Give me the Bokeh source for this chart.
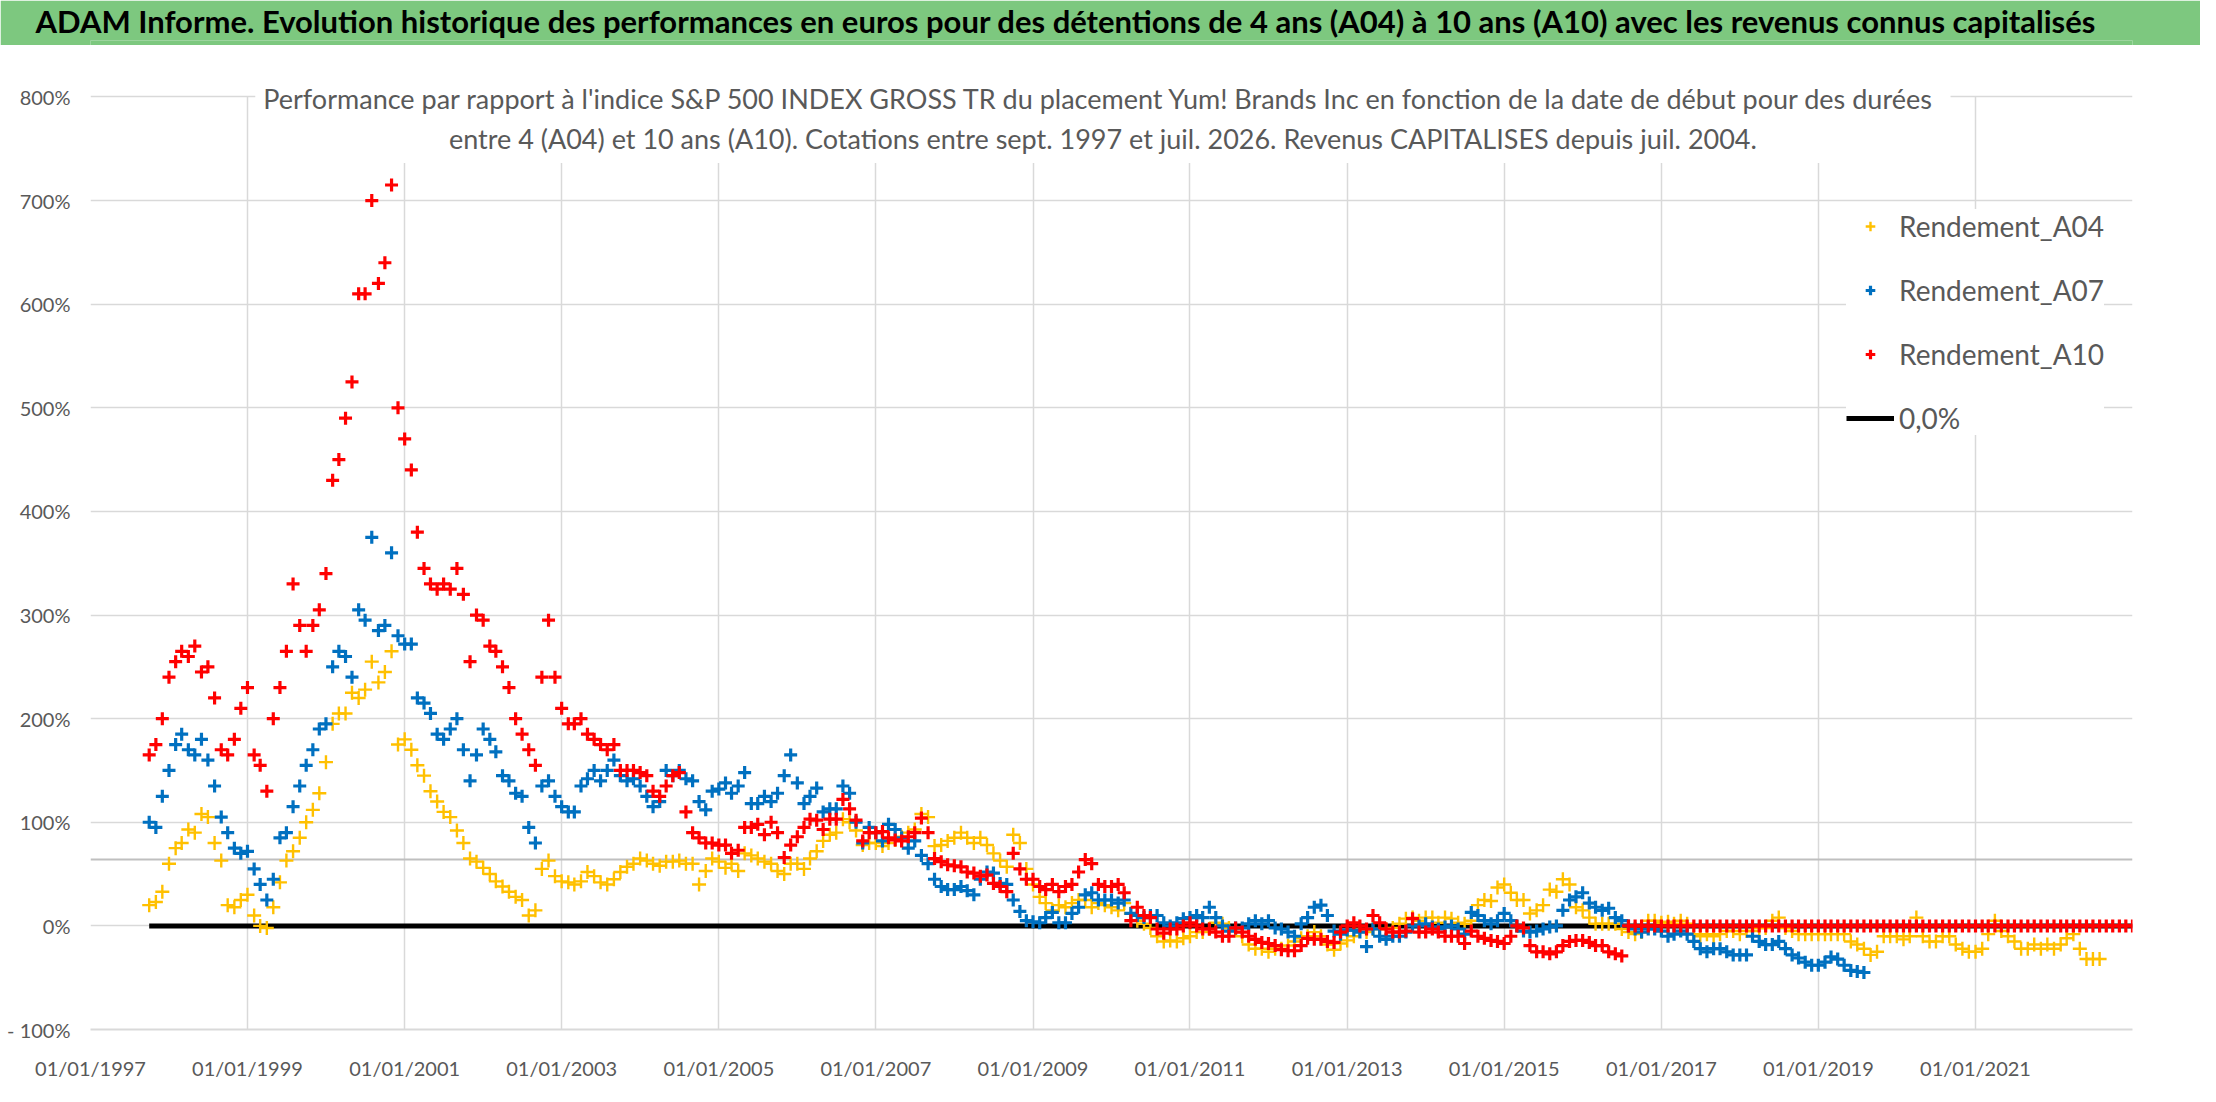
import pandas as pd
from bokeh.plotting import figure
from bokeh.layouts import column
from bokeh.models import (Range1d, FixedTicker, DatetimeTickFormatter, Label,
                          Legend, LegendItem, Span, Title)
from bokeh.embed import file_html
from bokeh.resources import INLINE

# ---------------- data ----------------
banner_title = ("ADAM Informe. Evolution historique des performances en euros pour des "
                "détentions de 4 ans (A04) à 10 ans (A10) avec les revenus connus capitalisés")
subtitle_lines = [
    "Performance par rapport à l'indice S&P 500 INDEX GROSS TR  du placement Yum! Brands Inc en fonction de la date de début pour des durées",
    "entre 4 (A04) et 10 ans (A10). Cotations entre sept. 1997 et juil. 2026. Revenus CAPITALISES depuis juil. 2004.",
]
series_names = ["Rendement_A04", "Rendement_A07", "Rendement_A10"]
zero_label = "0,0%"
first_month = "1997-10-01"
x_axis_start = "01/01/1997"
x_axis_end = "01/01/2023"
x_tick_labels = ["01/01/1997", "01/01/1999", "01/01/2001", "01/01/2003", "01/01/2005",
                 "01/01/2007", "01/01/2009", "01/01/2011", "01/01/2013", "01/01/2015",
                 "01/01/2017", "01/01/2019", "01/01/2021"]
y_ticks = [-100, 0, 100, 200, 300, 400, 500, 600, 700, 800]
y_tick_labels = ["- 100%", "0%", "100%", "200%", "300%", "400%", "500%", "600%", "700%", "800%"]
reference_level = 64

# monthly readings (%), starting Oct 1997
rendement_a04 = [
    20, 23, 33, 60, 75, 80, 93, 90, 108, 105, 80, 63, 20, 18, 25, 30, 10, 0, -2, 18,
    42, 63, 72, 85, 100, 112, 128, 158, 195, 205, 205, 225, 220, 228, 255, 235, 245, 265, 175, 180,
    170, 155, 145, 130, 120, 110, 105, 92, 80, 65, 62, 56, 50, 43, 38, 33, 28, 25, 10, 15,
    55, 63, 48, 43, 42, 40, 43, 52, 48, 42, 40, 45, 52, 57, 60, 65, 63, 60, 58, 62,
    62, 63, 60, 60, 40, 53, 65, 62, 56, 60, 53, 70, 68, 65, 62, 60, 53, 50, 60, 60,
    55, 65, 72, 82, 88, 90, 103, 100, 92, 78, 80, 80, 77, 80, 83, 86, 90, 93, 108, 105,
    77, 78, 82, 85, 90, 85, 80, 85, 78, 70, 63, 57, 88, 80, 55, 40, 28, 22, 15, 20,
    18, 22, 25, 25, 18, 22, 20, 18, 15, 22, 12, 5, 2, -2, -10, -15, -14, -15, -12, -10,
    -6, -6, -3, 3, 2, -2, -3, -10, -18, -22, -22, -25, -22, -22, -19, -15, -12, -10, -6, -10,
    -18, -23, -17, -14, -10, -3, -6, -3, -3, -3, -2, 2, 7, 8, 5, 8, 8, 3, 8, 7,
    3, 2, 5, 20, 25, 24, 37, 40, 32, 25, 25, 12, 15, 20, 35, 33, 45, 40, 18, 15,
    8, 2, 2, 2, 2, -3, -6, -8, -6, 5, 5, 3, 4, 2, 5, 2, -8, -10, -8, -10,
    -8, -5, -5, -8, -5, -5, -2, -2, 5, 8, -2, -5, -8, -8, -8, -8, -8, -8, -8, -8,
    -15, -18, -22, -28, -25, -10, -10, -10, -13, -10, 8, -10, -15, -15, -10, -10, -18, -22, -25, -25,
    -22, -8, 5, -5, -10, -15, -22, -22, -18, -22, -18, -22, -18, -12, -8, -22, -32, -32, -32,
]
rendement_a07 = [
    100, 95, 125, 150, 175, 185, 170, 165, 180, 160, 135, 105, 90, 75, 70, 72, 55, 40, 25, 45,
    85, 90, 115, 135, 155, 170, 190, 195, 250, 265, 260, 240, 305, 295, 375, 285, 290, 360, 280, 272,
    272, 220, 215, 205, 185, 180, 190, 200, 170, 140, 165, 190, 180, 168, 145, 140, 128, 125, 95, 80,
    135, 140, 125, 115, 110, 110, 135, 142, 150, 140, 150, 160, 145, 140, 142, 135, 125, 115, 120, 150,
    145, 150, 142, 140, 120, 112, 130, 132, 138, 128, 135, 148, 118, 118, 125, 120, 128, 145, 165, 138,
    118, 125, 133, 110, 113, 113, 135, 128, 100, 80, 95, 90, 82, 98, 93, 85, 75, 82, 68, 60,
    45, 38, 35, 35, 38, 34, 30, 45, 52, 51, 41, 40, 25, 14, 5, 4, 3, 8, 13, 3,
    3, 12, 18, 30, 32, 25, 25, 25, 22, 25, 12, 10, 8, 10, 10, 3, 0, 3, 7, 8,
    10, 8, 18, 8, 0, -5, -2, -2, 2, 5, 2, 5, -2, -3, -6, -10, 2, 8, 18, 20,
    10, -5, -8, -4, -4, -6, -20, -3, -10, -13, -10, -10, -6, 0, 0, 2, -1, -3, -1, 0,
    -3, -8, 13, 10, 5, 2, 5, 12, 5, 0, -5, -6, -5, -3, -1, 0, 15, 25, 28, 32,
    22, 18, 15, 17, 8, 5, 0, -3, -6, -3, -3, -5, -10, -8, -5, -8, -15, -22, -25, -22,
    -22, -25, -28, -28, -28, -10, -15, -18, -18, -15, -22, -28, -31, -35, -38, -38, -35, -30, -32, -38,
    -43, -44, -45,
]
rendement_a10 = [
    165, 175, 200, 240, 255, 265, 260, 270, 245, 250, 220, 170, 165, 180, 210, 230, 165, 155, 130, 200,
    230, 265, 330, 290, 265, 290, 305, 340, 430, 450, 490, 525, 610, 610, 700, 620, 640, 715, 500, 470,
    440, 380, 345, 330, 325, 330, 325, 345, 320, 255, 300, 295, 270, 265, 250, 230, 200, 185, 170, 155,
    240, 295, 240, 210, 195, 195, 200, 185, 180, 175, 170, 175, 150, 150, 150, 148, 145, 130, 125, 135,
    145, 148, 110, 90, 85, 80, 80, 78, 78, 70, 73, 95, 95, 98, 88, 100, 90, 66, 78, 86,
    95, 103, 102, 93, 103, 103, 122, 113, 102, 82, 90, 90, 91, 85, 83, 82, 86, 90, 104, 90,
    65, 62, 59, 58, 57, 52, 51, 48, 49, 41, 38, 33, 70, 55, 45, 45, 38, 35, 40, 33,
    38, 40, 52, 64, 60, 40, 38, 38, 40, 32, 5, 18, 10, 8, -3, -7, -3, -3, 0, 3,
    0, -3, -3, -6, -10, -10, -2, -6, -10, -13, -16, -17, -19, -23, -24, -24, -19, -12, -13, -13,
    -15, -16, -6, 0, 3, 0, -3, 10, 3, -3, -6, -6, -5, 7, -6, -6, -3, -6, -10, -10,
    -10, -17, -5, -10, -12, -14, -15, -17, -10, 0, -2, -19, -25, -25, -27, -25, -19, -15, -14, -14,
    -16, -19, -19, -25, -27, -29,
    0, 0, 0, 0, 0, 0, 0, 0, 0, 0, 0, 0, 0, 0, 0, 0, 0, 0, 0, 0,
    0, 0, 0, 0, 0, 0, 0, 0, 0, 0, 0, 0, 0, 0, 0, 0, 0, 0, 0, 0,
    0, 0, 0, 0, 0, 0, 0, 0, 0, 0, 0, 0, 0, 0, 0, 0, 0, 0, 0, 0,
    0, 0, 0, 0, 0, 0, 0, 0, 0, 0, 0, 0, 0, 0, 0, 0, 0, 0,
]
zero_values = [0] * len(rendement_a10)

# ---------------- styling ----------------
FONT = "Lato"
GREY_TEXT = "#595959"
GRID = "#D9D9D9"
GREEN = "#7DC87F"
colors = ["#FFC000", "#0070C0", "#FF0000"]
y_headroom = 840  # top of the plotting frame (above the 800% line), room for the subtitle


def months(values):
    return pd.date_range(first_month, periods=len(values), freq="MS")


def to_ms(s):
    return pd.to_datetime(s, format="%d/%m/%Y").value / 1e6


# ---------------- banner (title strip) ----------------
banner = figure(width=2200, height=45, x_range=Range1d(0, 1), y_range=Range1d(0, 1),
                toolbar_location=None, output_backend="svg",
                x_axis_location=None, y_axis_location=None,
                min_border_left=0, min_border_right=0, min_border_top=0, min_border_bottom=0)
# the column aligns this strip's frame with the chart frame, hence the negative offset
banner.title = Title(text=banner_title, align="left", offset=-55, standoff=0,
                     text_font=FONT, text_font_style="bold", text_font_size="31px",
                     text_color="black", vertical_align="middle")
banner.grid.visible = False
banner.background_fill_color = GREEN
banner.border_fill_color = GREEN
banner.outline_line_color = None

# ---------------- main chart ----------------
p = figure(width=2200, height=1041, x_axis_type="datetime",
           x_range=Range1d(to_ms(x_axis_start), to_ms(x_axis_end)),
           y_range=Range1d(y_ticks[0], y_headroom),
           toolbar_location=None, output_backend="svg", title=None,
           min_border_left=90, min_border_right=68, min_border_top=10, min_border_bottom=57)
p.outline_line_color = None
p.background_fill_color = "white"
p.border_fill_color = "white"

p.xaxis.ticker = FixedTicker(ticks=[to_ms(t) for t in x_tick_labels])
fmt = "%d/%m/%Y"
p.xaxis.formatter = DatetimeTickFormatter(microseconds=fmt, milliseconds=fmt, seconds=fmt,
                                          minsec=fmt, minutes=fmt, hourmin=fmt, hours=fmt,
                                          days=fmt, months=fmt, years=fmt)
p.yaxis.ticker = FixedTicker(ticks=y_ticks)
p.yaxis.major_label_overrides = {t: lab for t, lab in zip(y_ticks, y_tick_labels)}

for ax in (p.xaxis[0], p.yaxis[0]):
    ax.major_tick_line_color = None
    ax.minor_tick_line_color = None
    ax.major_tick_out = 0
    ax.major_tick_in = 0
    ax.minor_tick_out = 0
    ax.major_label_text_font = FONT
    ax.major_label_text_font_size = "20px"
    ax.major_label_text_color = GREY_TEXT
p.xaxis.axis_line_color = GRID
p.xaxis.axis_line_width = 2
p.xaxis.major_label_standoff = 26
p.yaxis.axis_line_color = None
p.yaxis.major_label_standoff = 20

p.xgrid.grid_line_color = GRID
p.xgrid.grid_line_width = 1.5
p.xgrid.cross_bounds = (y_ticks[0], y_ticks[-1])
p.ygrid.grid_line_color = GRID
p.ygrid.grid_line_width = 1.5

p.add_layout(Span(location=reference_level, dimension="width", line_color="#BFBFBF",
                  line_width=2, level="underlay"))

zero_r = p.line(months(zero_values), zero_values, line_color="black", line_width=5)
r04 = p.scatter(months(rendement_a04), rendement_a04, marker="cross", size=14,
                line_color=colors[0], line_width=2.4)
r07 = p.scatter(months(rendement_a07), rendement_a07, marker="cross", size=13,
                line_color=colors[1], line_width=3.2)
r10 = p.scatter(months(rendement_a10), rendement_a10, marker="cross", size=13,
                line_color=colors[2], line_width=3.2)

legend = Legend(items=[LegendItem(label=series_names[0], renderers=[r04]),
                       LegendItem(label=series_names[1], renderers=[r07]),
                       LegendItem(label=series_names[2], renderers=[r10]),
                       LegendItem(label=zero_label, renderers=[zero_r])],
                location=(1756, 594), orientation="vertical",
                glyph_width=48, glyph_height=24, label_height=24, label_standoff=5,
                spacing=30, padding=20, margin=0,
                label_text_font=FONT, label_text_font_size="28px",
                label_text_color=GREY_TEXT,
                border_line_color=None, background_fill_color="white",
                background_fill_alpha=1.0)
p.add_layout(legend)

p.add_layout(Label(x=pd.Timestamp("2009-11-22").value / 1e6, y=779,
                   text="\n".join(subtitle_lines), text_align="center",
                   text_baseline="middle", text_font=FONT, text_font_size="27px",
                   text_color=GREY_TEXT, text_line_height=1.2,
                   background_fill_color="white", padding=8))

layout = column(banner, p, spacing=0)
open("out.html", "w").write(file_html(layout, INLINE))
